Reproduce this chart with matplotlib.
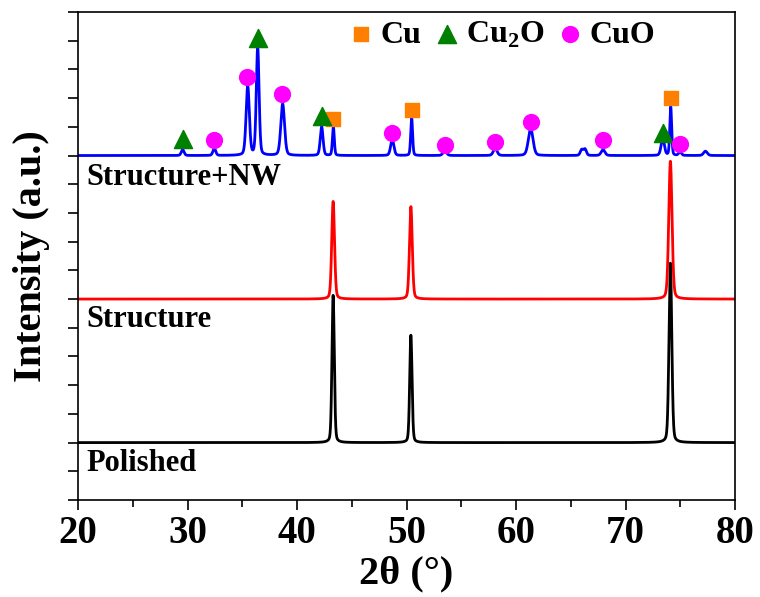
import numpy as np
import matplotlib
matplotlib.use('Agg')
import matplotlib.pyplot as plt
from matplotlib.ticker import MultipleLocator

plt.rcParams['font.family'] = ['Liberation Serif', 'DejaVu Serif']
plt.rcParams['font.weight'] = 'bold'
plt.rcParams['mathtext.fontset'] = 'custom'
plt.rcParams['mathtext.rm'] = 'Liberation Serif:bold'
plt.rcParams['mathtext.bf'] = 'Liberation Serif:bold'

# Picos: posición 2θ, altura (unidades de tick), anchura
pol_pos = [43.3, 50.4, 74.1]
pol_h = [5.13, 3.74, 6.25]
pol_w = [0.25, 0.25, 0.3]

str_pos = [43.3, 50.4, 74.1]
str_h = [3.4, 3.22, 4.8]
str_w = [0.3, 0.3, 0.35]

nw_pos = [29.56, 32.45, 35.5, 36.41, 38.69, 42.25, 43.32, 48.7, 50.47, 53.5,
          58.1, 61.34, 66.0, 66.3, 67.95, 73.4, 74.13, 74.98, 77.3]
nw_h = [0.2, 0.25, 2.4, 3.75, 1.8, 1.0, 1.0, 0.55, 1.32, 0.15,
        0.25, 0.94, 0.2, 0.22, 0.2, 0.59, 1.7, 0.12, 0.15]
nw_w = [0.3, 0.3, 0.35, 0.3, 0.4, 0.3, 0.2, 0.35, 0.2, 0.4,
        0.4, 0.5, 0.3, 0.3, 0.4, 0.35, 0.2, 0.3, 0.4]

offsets = [2, 7, 12]

# Marcadores de fases
cu_x = [43.26, 50.47, 74.13]
cu_y = [13.28, 13.6, 14.01]
cu2o_x = [29.56, 36.41, 42.25, 73.4]
cu2o_y = [12.59, 16.1, 13.39, 12.8]
cuo_x = [32.42, 35.43, 38.63, 48.68, 53.5, 58.08, 61.34, 67.95, 74.98]
cuo_y = [12.55, 14.74, 14.15, 12.8, 12.38, 12.48, 13.18, 12.55, 12.41]

x = np.linspace(20, 80, 6001)


def patron(pos, h, w, base, eta=0.25):
    # pseudo-Voigt: mezcla de Lorentz y Gauss
    y = np.full_like(x, base, dtype=float)
    for p, a, g in zip(pos, h, w):
        d = (x - p) / (g / 2)
        y += a * (eta / (1 + d ** 2) + (1 - eta) * np.exp(-np.log(2) * d ** 2))
    return y


fig = plt.figure(figsize=(7.6, 5.97), dpi=100)
ax = fig.add_axes([78 / 760, 97 / 597, 657 / 760, 488 / 597])

ax.plot(x, patron(pol_pos, pol_h, pol_w, offsets[0]), color='black', lw=2)
ax.plot(x, patron(str_pos, str_h, str_w, offsets[1]), color='#ff0000', lw=2)
ax.plot(x, patron(nw_pos, nw_h, nw_w, offsets[2]), color='#0000ff', lw=2)

ax.scatter(cu_x, cu_y, marker='s', s=110, color='#ff8000', label='Cu', zorder=3)
ax.scatter(cu2o_x, cu2o_y, marker='^', s=170, color='#008000', label=r'Cu$_2$O', zorder=3)
ax.scatter(cuo_x, cuo_y, marker='o', s=130, color='#ff00ff', label='CuO', zorder=3)

ax.text(20.75, 11.25, 'Structure+NW', fontsize=22, fontweight='bold', va='center')
ax.text(20.75, 6.3, 'Structure', fontsize=22, fontweight='bold', va='center')
ax.text(20.75, 1.28, 'Polished', fontsize=22, fontweight='bold', va='center')

ax.legend(loc='center', bbox_to_anchor=(0.645, 0.953), ncol=3, frameon=False,
          fontsize=23, handlelength=0.8, handletextpad=0.2, columnspacing=0.4,
          borderpad=0, scatterpoints=1)

ax.set_xlim(20, 80)
ax.set_ylim(0, 17)
ax.xaxis.set_major_locator(MultipleLocator(10))
ax.xaxis.set_minor_locator(MultipleLocator(5))
ax.yaxis.set_major_locator(MultipleLocator(1))
ax.set_yticklabels([])
ax.tick_params(axis='both', which='both', direction='out', width=1.2)
ax.tick_params(axis='both', which='major', length=7)
ax.tick_params(axis='x', which='minor', length=5)
ax.tick_params(axis='x', labelsize=28, pad=4)
for lab in ax.get_xticklabels():
    lab.set_fontweight('bold')
for sp in ax.spines.values():
    sp.set_linewidth(1.2)

ax.set_xlabel('2θ (°)', fontsize=29, fontweight='bold', labelpad=2)
ax.set_ylabel('Intensity (a.u.)', fontsize=29, fontweight='bold', labelpad=10)

fig.savefig('out.png', dpi=100)
